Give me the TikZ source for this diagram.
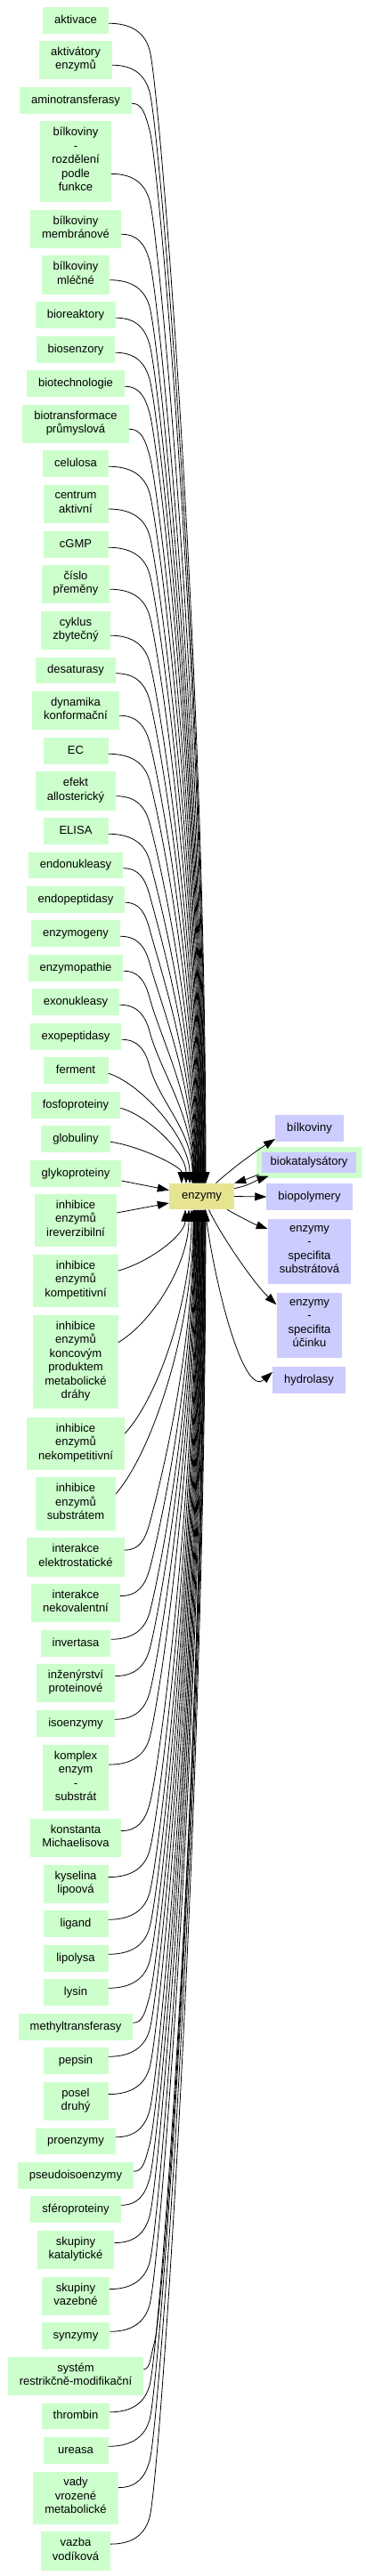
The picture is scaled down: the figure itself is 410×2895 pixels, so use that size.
\documentclass[tikz,border=0pt]{standalone}
\usepackage{fontspec}
\setmainfont{Liberation Sans}
\usetikzlibrary{arrows.meta,calc}
\definecolor{lgreen}{RGB}{204,255,204}
\definecolor{lblue}{RGB}{204,204,255}
\definecolor{khakic}{RGB}{230,228,145}
\tikzset{
 nbase/.style={inner xsep=13pt, inner ysep=7pt, minimum width=73pt, align=center,
   font=\fontsize{13}{15.5}\selectfont, execute at begin node=\strut,
   execute at end node=\strut, text=black},
 lnode/.style={nbase, fill=lgreen},
 rnode/.style={nbase, fill=lblue},
 cnode/.style={nbase, fill=khakic},
 conn/.style={draw=black, line width=0.8pt, -{Triangle[length=13pt,width=9pt]}},
}
\newcommand\upedge[2]{%
 \draw[conn] let \p1=(#1.east), \p2=(#1.north east),
   \n6={\y1-0.35*(\y2-(\y1))+2pt},
   \n5={min(30pt,0.3*(\n6+1330pt))},
   \n1={max(\x1+12pt,168pt)},
   \n2={\n6-\n5},
   \n3={\n2+1330pt},
   \n4={min(1,\n3/150pt)},
   \n7={#2*1pt} in
   (\x1,\n6) .. controls ({\x1+0.6*(\n1-\x1)},\n6) and ({\n1-5pt},{\n6-0.4*\n5}) .. (\n1,\n2)
   .. controls ({\n1+12pt*\n4},{\n2-45pt*\n4}) and (\n7,{-1330pt+0.45*\n3}) .. (\n7,-1330pt);}
\newcommand\downedge[2]{%
 \draw[conn] let \p1=(#1.east), \p2=(#1.north east),
   \n6={\y1+0.45*(\y2-(\y1))-2pt},
   \n5={min(30pt,0.3*(-1359.5pt-(\n6)))},
   \n1={max(\x1+12pt,168pt)},
   \n2={\n6+\n5},
   \n3={-1359.5pt-(\n2)},
   \n4={min(1,\n3/150pt)},
   \n7={#2*1pt} in
   (\x1,\n6) .. controls ({\x1+0.6*(\n1-\x1)},\n6) and ({\n1-5pt},{\n6+0.4*\n5}) .. (\n1,\n2)
   .. controls ({\n1+12pt*\n4},{\n2+45pt*\n4}) and (\n7,{-1359.5pt-0.45*\n3}) .. (\n7,-1359.5pt);}
\newcommand\nearup[2]{%
 \draw[conn] let \p1=(#1.east), \p2=(#1.north east),
   \n6={\y1-0.35*(\y2-(\y1))+2pt},
   \n3={\n6+1330pt},
   \n7={#2*1pt} in
   (\x1,\n6) .. controls ({\x1+0.42*(\n7-\x1)},{\n6-0.1*\n3}) and (\n7,{-1330pt+0.4*\n3}) .. (\n7,-1330pt);}
\newcommand\neardown[2]{%
 \draw[conn] let \p1=(#1.east), \p2=(#1.north east),
   \n6={\y1+0.45*(\y2-(\y1))-2pt},
   \n3={-1359.5pt-(\n6)},
   \n7={#2*1pt} in
   (\x1,\n6) .. controls ({\x1+0.5*(\n7-\x1)},{\n6+0.16*\n3}) and (\n7,{-1359.5pt-0.4*\n3}) .. (\n7,-1359.5pt);}
\begin{document}
\begin{tikzpicture}[x=1pt,y=1pt]
\useasboundingbox (0,0) rectangle (410,-2895);
% left column
\node[lnode] (n1) at (85,-23) {aktivace};
\node[lnode] (n2) at (85,-67.5) {aktivátory\\enzymů};
\node[lnode] (n3) at (85,-113) {aminotransferasy};
\node[lnode] (n4) at (85,-181.5) {bílkoviny\\-\\rozdělení\\podle\\funkce};
\node[lnode] (n5) at (85,-257.5) {bílkoviny\\membránové};
\node[lnode] (n6) at (85,-309) {bílkoviny\\mléčné};
\node[lnode] (n7) at (85,-354) {bioreaktory};
\node[lnode] (n8) at (85,-393) {biosenzory};
\node[lnode] (n9) at (85,-431) {biotechnologie};
\node[lnode] (n10) at (85,-476.5) {biotransformace\\průmyslová};
\node[lnode] (n11) at (85,-521) {celulosa};
\node[lnode] (n12) at (85,-566.5) {centrum\\aktivní};
\node[lnode] (n13) at (85,-612) {cGMP};
\node[lnode] (n14) at (85,-656.5) {číslo\\přeměny};
\node[lnode] (n15) at (85,-708.5) {cyklus\\zbytečný};
\node[lnode] (n16) at (85,-753.5) {desaturasy};
\node[lnode] (n17) at (85,-798.5) {dynamika\\konformační};
\node[lnode] (n18) at (85,-844) {EC};
\node[lnode] (n19) at (85,-889) {efekt\\allosterický};
\node[lnode] (n20) at (85,-934) {ELISA};
\node[lnode] (n21) at (85,-972.5) {endonukleasy};
\node[lnode] (n22) at (85,-1011) {endopeptidasy};
\node[lnode] (n23) at (85,-1049) {enzymogeny};
\node[lnode] (n24) at (85,-1088) {enzymopathie};
\node[lnode] (n25) at (85,-1126) {exonukleasy};
\node[lnode] (n26) at (85,-1165) {exopeptidasy};
\node[lnode] (n27) at (85,-1203) {ferment};
\node[lnode] (n28) at (85,-1242) {fosfoproteiny};
\node[lnode] (n29) at (85,-1280) {globuliny};
\node[lnode] (n30) at (85,-1319) {glykoproteiny};
\node[lnode] (n31) at (85,-1371.5) {inhibice\\enzymů\\ireverzibilní};
\node[lnode] (n32) at (85,-1439.5) {inhibice\\enzymů\\kompetitivní};
\node[lnode] (n33) at (85,-1530.5) {inhibice\\enzymů\\koncovým\\produktem\\metabolické\\dráhy};
\node[lnode] (n34) at (85,-1622.5) {inhibice\\enzymů\\nekompetitivní};
\node[lnode] (n35) at (85,-1690) {inhibice\\enzymů\\substrátem};
\node[lnode] (n36) at (85,-1750) {interakce\\elektrostatické};
\node[lnode] (n37) at (85,-1801.5) {interakce\\nekovalentní};
\node[lnode] (n38) at (85,-1847) {invertasa};
\node[lnode] (n39) at (85,-1891.5) {inženýrství\\proteinové};
\node[lnode] (n40) at (85,-1937) {isoenzymy};
\node[lnode] (n41) at (85,-1998) {komplex\\enzym\\-\\substrát};
\node[lnode] (n42) at (85,-2065.5) {konstanta\\Michaelisova};
\node[lnode] (n43) at (85,-2117.5) {kyselina\\lipoová};
\node[lnode] (n44) at (85,-2162) {ligand};
\node[lnode] (n45) at (85,-2201) {lipolysa};
\node[lnode] (n46) at (85,-2239) {lysin};
\node[lnode] (n47) at (85,-2278) {methyltransferasy};
\node[lnode] (n48) at (85,-2316) {pepsin};
\node[lnode] (n49) at (85,-2361.5) {posel\\druhý};
\node[lnode] (n50) at (85,-2406.5) {proenzymy};
\node[lnode] (n51) at (85,-2445) {pseudoisoenzymy};
\node[lnode] (n52) at (85,-2483) {sféroproteiny};
\node[lnode] (n53) at (85,-2528.5) {skupiny\\katalytické};
\node[lnode] (n54) at (85,-2580.5) {skupiny\\vazebné};
\node[lnode] (n55) at (85,-2625) {synzymy};
\node[lnode] (n56) at (85,-2670.5) {systém\\restrikčně-modifikační};
\node[lnode] (n57) at (85,-2715.5) {thrombin};
\node[lnode] (n58) at (85,-2754) {ureasa};
\node[lnode] (n59) at (85,-2807) {vady\\vrozené\\metabolické};
\node[lnode] (n60) at (85,-2867) {vazba\\vodíková};
% centre
\node[cnode] (enz) at (226.5,-1344.5) {enzymy};
% right column
\node[rnode] (bilk) at (347.5,-1268) {bílkoviny};
\node[rnode, draw=lgreen, line width=6pt, outer sep=0pt] (biokat) at (347,-1306.5) {biokatalysátory};
\node[rnode] (biopoly) at (347.5,-1345) {biopolymery};
\node[rnode] (subst) at (347.5,-1406.5) {enzymy\\-\\specifita\\substrátová};
\node[rnode] (ucinku) at (347.5,-1489.5) {enzymy\\-\\specifita\\účinku};
\node[rnode] (hydro) at (347,-1551) {hydrolasy};
% edges into enzymy from above
\foreach \i in {1,...,26}{\pgfmathsetmacro\xt{231-0.6*(\i-1)}\upedge{n\i}{\xt}}
\nearup{n27}{213}
\nearup{n28}{209}
\nearup{n29}{204}
\draw[conn] ($(n30.east)+(0,-8)$) -- ($(enz.west)+(0,7)$);
\draw[conn] ($(n31.east)+(0,8.5)$) -- ($(enz.west)+(0,-7.5)$);
% edges into enzymy from below
\neardown{n32}{208}
\neardown{n33}{212}
\neardown{n34}{215}
\neardown{n35}{217}
\foreach \i in {36,...,60}{\pgfmathsetmacro\xt{217.5+0.56*(\i-36)}\downedge{n\i}{\xt}}
% edges out of enzymy
\draw[conn] ($(enz.north)+(16,0)$) .. controls ($(enz.north)+(36,18)$) and ($(bilk.south west)+(-22,-11)$) .. ($(bilk.south west)+(0,3)$);
\draw[conn] ($(enz.east)+(0,9)$) .. controls ($(enz.east)+(14,11)$) and ($(biokat.south west)+(-1,-4.5)$) .. ($(biokat.south west)+(11,-0.5)$);
\draw[conn] ($(biokat.west)+(0,-13.5)$) .. controls ($(biokat.west)+(-8,-16.5)$) and ($(enz.north east)+(10,3)$) .. (enz.north east);
\draw[conn] (enz.east) -- (biopoly.west);
\draw[conn] ($(enz.south east)+(-8,0)$) .. controls ($(enz.south east)+(6,-8)$) and ($(subst.north west)+(-14,-6)$) .. ($(subst.north west)+(0,-11)$);
\draw[conn] ($(enz.south)+(8,0)$) .. controls ($(enz.south)+(19.5,-25.5)$) and ($(ucinku.north west)+(-26,11.5)$) .. ($(ucinku.north west)+(0,-13)$);
\draw[conn] ($(enz.south)+(4,0)$) .. controls ($(enz.south)+(11.5,-70)$) and ($(hydro.west)+(-34,-21)$) .. ($(hydro.west)+(0,9)$);
\end{tikzpicture}
\end{document}
